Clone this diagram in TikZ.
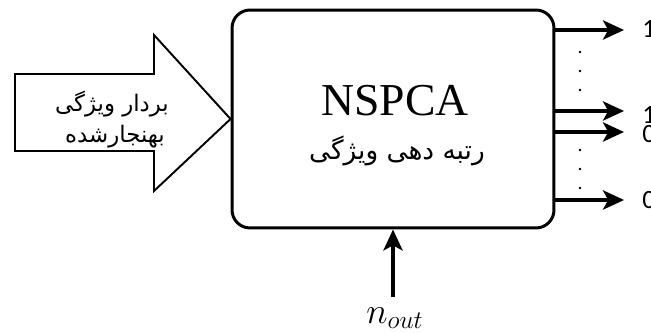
\documentclass[tikz,border=0pt]{standalone}
\usepackage{fontspec}
\setmainfont{Liberation Serif}
\newfontfamily\persianfont[Script=Arabic]{DejaVu Sans}
\newfontfamily\digitfont{Carlito}
\TeXXeTstate=1
\usetikzlibrary{arrows.meta,positioning,calc}
\tikzset{
  outarrow/.style={line width=1.8pt,-{Stealth[length=12pt,width=11pt,inset=3pt]}},
  bitlabel/.style={anchor=west,inner sep=0pt,font=\digitfont\fontsize{15}{15}\selectfont},
  dotmark/.style={fill=black,circle,inner sep=0pt,minimum size=1.6pt}
}
\begin{document}
\begin{tikzpicture}[x=0.02cm,y=-0.02cm]
        \useasboundingbox (0,0) rectangle (651,333);
        %Khoi NSPCA
        \node[draw, line width=1.7pt, rounded corners=0.36cm, minimum width=6.44cm, minimum height=4.36cm] (box) at (393,119) {};
        \node (title) at (395,101) {\fontsize{26}{26}\selectfont NSPCA};
        \node (rank) at (397,151) {\persianfont\fontsize{15}{15}\selectfont\beginR رتبه دهی ویژگی\endR};
        %Mui ten vao
        \coordinate (tip) at (box.west);
        \draw[line width=1.1pt, line join=miter] (15,74)--(154,74)--(154,35)--(tip)--(154,191)--(154,151)--(15,151)--cycle;
        \node (in1) at (112,104) {\persianfont\fontsize{13}{13}\selectfont\beginR بردار ویژگی\endR};
        \node (in2) at (115,137) {\persianfont\fontsize{13}{13}\selectfont\beginR بهنجارشده\endR};
        %Mui ten ra
        \coordinate (o1) at (624,30);
        \coordinate (o2) at (624,111);
        \coordinate (o3) at (624,132);
        \coordinate (o4) at (624,200);
        \draw[outarrow] (o1 -| box.east) -- (o1);
        \draw[outarrow] (o2 -| box.east) -- (o2);
        \draw[outarrow] (o3 -| box.east) -- (o3);
        \draw[outarrow] (o4 -| box.east) -- (o4);
        \node[bitlabel] (b1) at (642,29) {1};
        \node[bitlabel] (b2) at (642,115) {1};
        \node[bitlabel] (b3) at (642,134) {0};
        \node[bitlabel] (b4) at (642,200) {0};
        %Cham
        \foreach \y in {52,71,90,150,169,188}
            \node[dotmark] at (580,\y) {};
        %n_out
        \node (nout) at (395,318) {\fontsize{20}{20}\selectfont$n_{out}$};
        \coordinate (nbase) at (393,297);
        \draw[outarrow] (nbase) -- (box.south);
\end{tikzpicture}
\end{document}
